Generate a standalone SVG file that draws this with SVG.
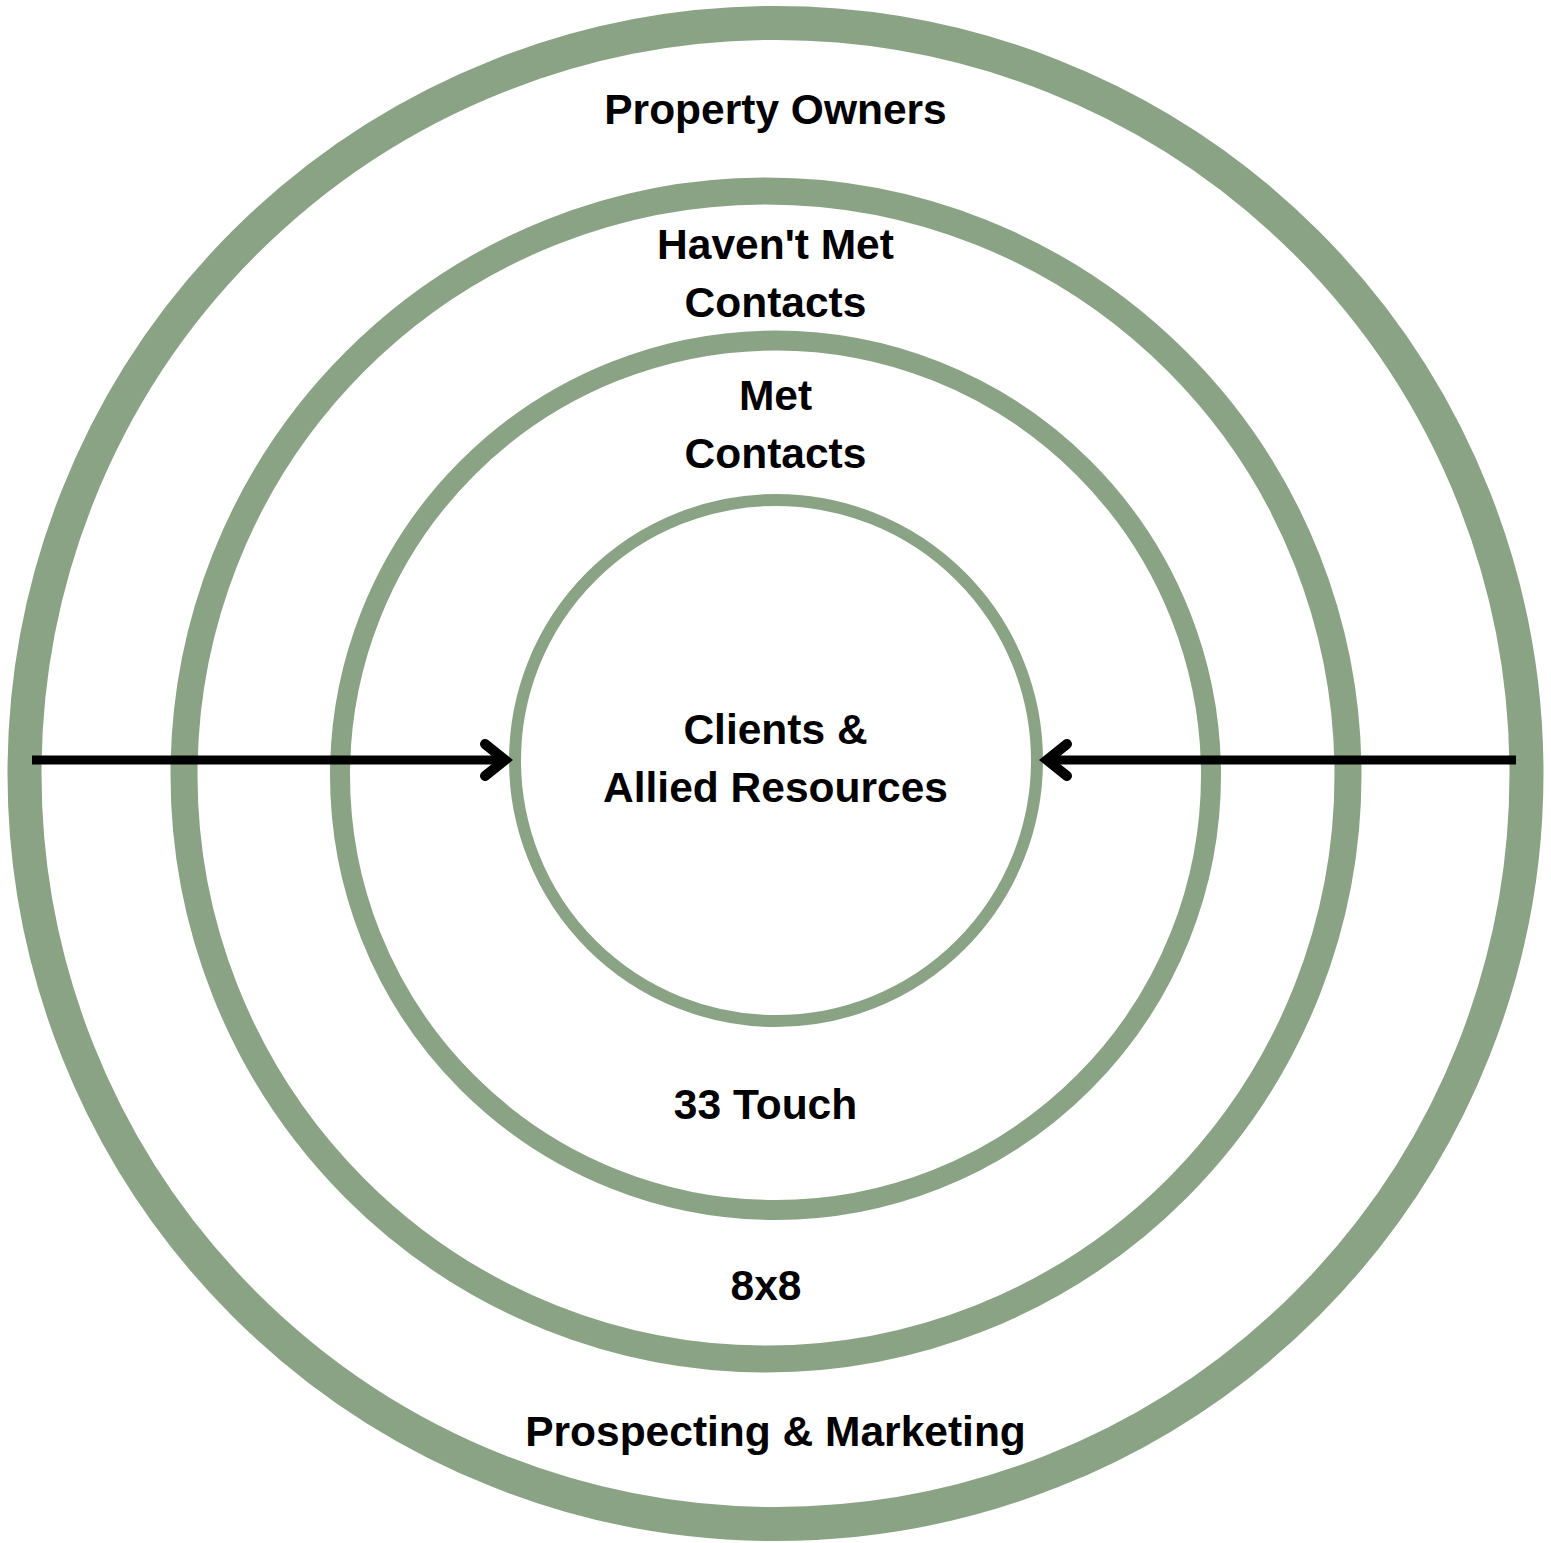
<svg xmlns="http://www.w3.org/2000/svg" width="1551" height="1543" viewBox="0 0 1551 1543">
  <style>
    .ring { fill: none; stroke: #8aa385; }
    .lbl { font-family: "Liberation Sans", Arial, sans-serif; font-weight: bold; font-size: 42.5px; fill: #000; text-anchor: middle; }
    .arrow { fill: none; stroke: #000; stroke-width: 9; }
    .head { fill: none; stroke: #000; stroke-width: 10; stroke-linecap: round; stroke-linejoin: miter; }
  </style>
  <rect width="1551" height="1543" fill="#ffffff"/>

  <g id="ring-property-owners">
    <ellipse class="ring" cx="775.5" cy="773.5" rx="751" ry="750.5" stroke-width="34"/>
    <text class="lbl" x="775.5" y="124">Property Owners</text>
    <text class="lbl" x="775.5" y="1446">Prospecting &amp; Marketing</text>
  </g>

  <g id="ring-havent-met">
    <ellipse class="ring" cx="766" cy="775" rx="582" ry="584" stroke-width="27"/>
    <text class="lbl" x="775.5" y="259">Haven't Met</text>
    <text class="lbl" x="775.5" y="317">Contacts</text>
    <text class="lbl" x="766" y="1300">8x8</text>
  </g>

  <g id="ring-met">
    <ellipse class="ring" cx="775.5" cy="775.25" rx="435.5" ry="434.75" stroke-width="20"/>
    <text class="lbl" x="775.5" y="410">Met</text>
    <text class="lbl" x="775.5" y="468">Contacts</text>
    <text class="lbl" x="765.5" y="1119">33 Touch</text>
  </g>

  <g id="core-clients">
    <ellipse class="ring" cx="776" cy="760.5" rx="261" ry="260.5" stroke-width="12"/>
    <text class="lbl" x="775.5" y="744">Clients &amp;</text>
    <text class="lbl" x="775.5" y="802">Allied Resources</text>
  </g>

  <g id="connectors">
    <line class="arrow" x1="32" y1="760" x2="506" y2="760"/>
    <polyline class="head" points="485,744 505,760 485,776"/>
    <line class="arrow" x1="1516" y1="760" x2="1046" y2="760"/>
    <polyline class="head" points="1067,744 1047,760 1067,776"/>
  </g>
</svg>
